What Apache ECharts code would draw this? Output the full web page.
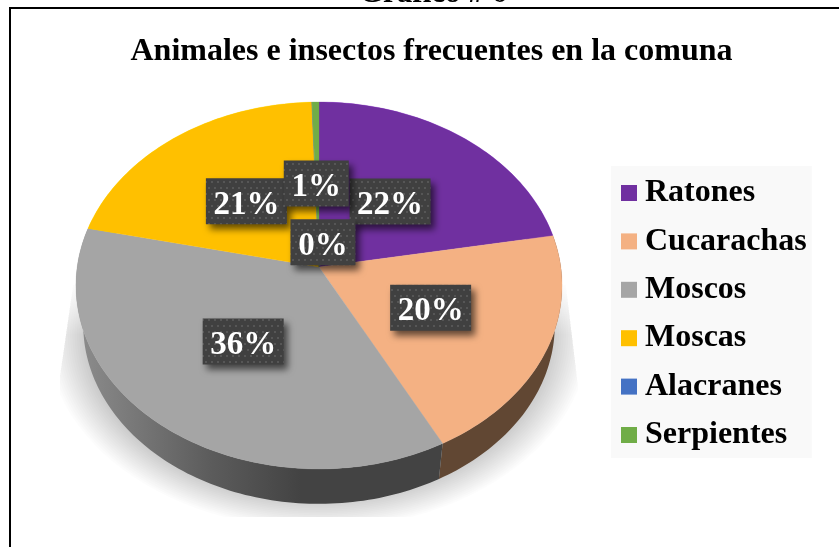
<!DOCTYPE html>
<html>
<head>
<meta charset="utf-8">
<script src="https://cdn.jsdelivr.net/npm/echarts@6/dist/echarts.min.js"></script>
<style>html,body{margin:0;padding:0;background:#fff}#c{width:839px;height:547px}</style>
</head>
<body>
<div id="c"></div>
<script>
var chartTitle = 'Animales e insectos frecuentes en la comuna';
var captionText = 'Gráfico # 6';
var categories = ['Ratones', 'Cucarachas', 'Moscos', 'Moscas', 'Alacranes', 'Serpientes'];
var values = [22.2, 20.1, 36.2, 21.0, 0.02, 0.5];
var tickLabels = ['22%', '20%', '36%', '21%', '0%', '1%'];
var colors = ['#7030a0', '#f4b183', '#a5a5a5', '#ffc000', '#4472c4', '#70ad47'];

var FONT = '"Liberation Serif", "Times New Roman", serif';
var P = { x0: 319, y0: 267, a: 241.8, b: 181.6, k: 0.1008 };
var labelRadius = [0.5, 0.5, 0.5, 0.5, 0.15, 0.5];
var labelNudge = [-1, -2, 4, -1, 5, -1];
var labelNudgeY = [-1, -1, -4, -1, 0, -1];

var total = values.reduce(function (s, v) { return s + v; }, 0);
var starts = values.map(function (v, i) {
  return values.slice(0, i).reduce(function (s, x) { return s + x; }, 0);
});
function project(frac, r) {
  var t = frac / total * 2 * Math.PI, u = Math.sin(t), v = Math.cos(t), w = 1 + P.k * v;
  return [P.x0 + r * P.a * u / w, P.y0 - r * P.b * v / w];
}
function lower(p) { return [P.x0 + (p[0] - P.x0) * 0.97, p[1] * 0.975 + 46.6]; }

var dots = document.createElement('canvas');
dots.width = 12; dots.height = 12;
(function () {
  var g = dots.getContext('2d');
  g.fillStyle = '#404040'; g.fillRect(0, 0, 12, 12);
  g.fillStyle = '#565656';
  [[2, 2], [8, 2], [5, 8], [11, 8]].forEach(function (d) { g.fillRect(d[0] - 1, d[1] - 1, 2, 2); });
})();

function sideFill(i) {
  if (i === 2) {
    return { type: 'linear', x: 80, y: 0, x2: 340, y2: 0, global: true, colorStops: [
      { offset: 0, color: '#8c8c8c' }, { offset: 0.5, color: '#5c5c5c' }, { offset: 0.85, color: '#434343' }, { offset: 1, color: '#434343' }
    ] };
  }
  if (i === 1) return '#614733';
  return echarts.color.lift(colors[i], -0.6);
}
function sliceRender(i) {
  return function () {
    var n = Math.max(2, Math.ceil(values[i] * 3)), top = [], low = [];
    for (var s = 0; s <= n; s++) {
      var p = project(starts[i] + values[i] * s / n, 1);
      top.push(p); low.push(lower(p));
    }
    var surface = [[P.x0, P.y0]].concat(top);
    var wall = top.concat(low.slice().reverse());
    var label = project(starts[i] + values[i] / 2, labelRadius[i]);
    var cx = label[0] + labelNudge[i], cy = label[1] + labelNudgeY[i];
    var wide = tickLabels[i].length === 3 ? 81 : 65;
    return { type: 'group', children: [
      { type: 'polygon', z2: 1, shape: { points: wall }, style: { fill: sideFill(i) } },
      { type: 'polygon', z2: 2, shape: { points: surface }, style: { fill: colors[i], stroke: colors[i], lineWidth: 0.3 } },
      { type: 'rect', z2: 50 + i, shape: { x: cx - wide / 2, y: cy - 23, width: wide, height: 46 },
        style: { fill: { image: dots, repeat: 'repeat' }, shadowBlur: 7, shadowOffsetX: 4, shadowOffsetY: 5, shadowColor: 'rgba(0,0,0,0.6)' } },
      { type: 'text', z2: 60 + i, x: cx, y: cy + 4,
        style: { text: tickLabels[i], fill: '#fff', font: 'bold 33px ' + FONT, align: 'center', verticalAlign: 'middle' } }
    ] };
  };
}
var series = categories.map(function (name, i) {
  return { type: 'custom', name: name, coordinateSystem: 'none', silent: true, z: 3,
    itemStyle: { color: colors[i] }, data: [values[i]], renderItem: sliceRender(i) };
});
series.unshift({ type: 'custom', name: 'sombra', coordinateSystem: 'none', silent: true, z: 1, data: [0],
  renderItem: function () {
    var layers = [];
    for (var j = 0; j < 18; j++) {
      layers.push({ type: 'ellipse', z2: 0,
        shape: { cx: 318, cy: 335, rx: 232 + 2.3 * j, ry: 165 + 1.7 * j },
        clipPath: { type: 'polygon', shape: { points: [[73, 285], [60, 375], [60, 517], [578, 517], [578, 385], [566, 285]] } },
        style: { fill: 'rgba(0,0,0,0.0135)' } });
    }
    layers.push({ type: 'rect', z2: 1, shape: { x: 55, y: 280, width: 530, height: 55 },
      style: { fill: { type: 'linear', x: 0, y: 0, x2: 0, y2: 1, colorStops: [
        { offset: 0, color: 'rgba(255,255,255,1)' }, { offset: 1, color: 'rgba(255,255,255,0)' }
      ] } } });
    return { type: 'group', children: layers };
  } });

var chart = echarts.init(document.getElementById('c'), null, { renderer: 'canvas' });
chart.setOption({
  animation: false,
  backgroundColor: '#fff',
  title: [
    { text: chartTitle, left: 431.5, top: 36, textAlign: 'center',
      textStyle: { fontFamily: FONT, fontWeight: 'bold', fontSize: 32, color: '#000' }, padding: 0 },
    { text: captionText, left: 433, top: -22, textAlign: 'center',
      textStyle: { fontFamily: FONT, fontWeight: 'bold', fontSize: 31, color: '#000' }, padding: 0 }
  ],
  legend: {
    data: categories, orient: 'vertical', left: 611, top: 166, selectedMode: false,
    icon: 'rect', itemWidth: 16, itemHeight: 16, itemGap: 4.4,
    backgroundColor: '#f9f9f9', padding: [5, 5, 1, 10],
    textStyle: { fontFamily: FONT, fontWeight: 'bold', fontSize: 32, color: '#000', lineHeight: 32, padding: [12, 0, 0, 3] }
  },
  graphic: [
    { type: 'polyline', silent: true, z: 0, shape: { points: [[10, 547], [10, 8], [839, 8]] }, style: { stroke: '#000', lineWidth: 2, fill: null } }
  ],
  series: series
});
</script>
</body>
</html>
